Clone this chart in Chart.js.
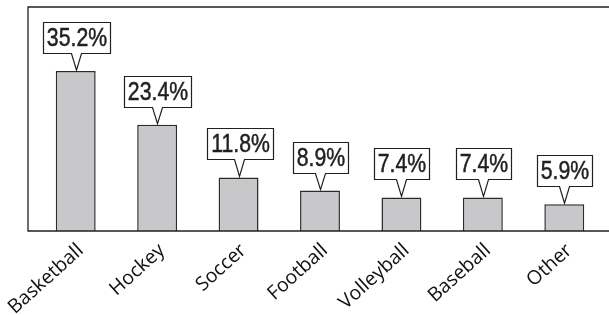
<!DOCTYPE html>
<html>
<head>
<meta charset="utf-8">
<script src="https://cdn.jsdelivr.net/npm/chart.js@4"></script>
<style>
  html, body { margin: 0; padding: 0; background: #fff; }
  #wrap { width: 609px; height: 315px; }
</style>
</head>
<body>
<div id="wrap"><canvas id="sportsChart" width="609" height="315"></canvas></div>
<script>
// Data
const sports = ['Basketball', 'Hockey', 'Soccer', 'Football', 'Volleyball', 'Baseball', 'Other'];
const shares = [35.2, 23.4, 11.8, 8.9, 7.4, 7.4, 5.9];

const INK = '#231f20';
const NARROW = 0.85; // squeeze factor to mimic a condensed face

// ── Frame: left, top and bottom rules (no right border) ──
const framePlugin = {
    id: 'frame',
    afterDraw(chart) {
        const { ctx, chartArea } = chart;
        const left = chartArea.left - 7;
        ctx.save();
        ctx.strokeStyle = INK;
        ctx.lineWidth = 1.3;
        ctx.beginPath();
        ctx.moveTo(chart.width, chartArea.top);
        ctx.lineTo(left, chartArea.top);
        ctx.lineTo(left, chartArea.bottom);
        ctx.lineTo(chart.width, chartArea.bottom);
        ctx.stroke();
        ctx.restore();
    },
};

// ── Callout labels with a little pointer ──
const calloutPlugin = {
    id: 'callouts',
    afterDatasetsDraw(chart) {
        const { ctx } = chart;
        const meta = chart.getDatasetMeta(0);
        ctx.save();
        ctx.font = "25px 'Liberation Sans', Arial, sans-serif";
        ctx.textAlign = 'center';
        ctx.textBaseline = 'middle';
        meta.data.forEach((bar, i) => {
            const text = shares[i].toFixed(1) + '%';
            const w = ctx.measureText(text).width * NARROW + 7;
            const h = 31;
            const gap = 17;
            const x = Math.round(bar.x) + 0.5;
            const tipY = bar.y - 1;
            const boxBottom = Math.round(tipY - gap) + 0.5;
            const boxTop = boxBottom - h;
            const l = Math.round(x - w / 2) + 0.5;
            const r = l + Math.round(w);

            ctx.fillStyle = '#fff';
            ctx.strokeStyle = INK;
            ctx.lineWidth = 1.2;
            ctx.beginPath();
            ctx.moveTo(l, boxTop);
            ctx.lineTo(r, boxTop);
            ctx.lineTo(r, boxBottom);
            ctx.lineTo(x + 5, boxBottom);
            ctx.lineTo(x, tipY);
            ctx.lineTo(x - 5, boxBottom);
            ctx.lineTo(l, boxBottom);
            ctx.closePath();
            ctx.fill();
            ctx.stroke();

            ctx.save();
            ctx.translate((l + r) / 2, boxTop + h / 2 + 1);
            ctx.scale(NARROW, 1);
            ctx.fillStyle = INK;
            ctx.lineWidth = 0.5;
            ctx.fillText(text, 0, 0);
            ctx.strokeText(text, 0, 0);
            ctx.restore();
        });
        ctx.restore();
    },
};

new Chart(document.getElementById('sportsChart'), {
    type: 'bar',
    data: {
        labels: sports,
        datasets: [{
            data: shares,
            backgroundColor: '#c8c8ca',
            borderColor: '#2b2b2b',
            borderWidth: 1.5,
            barPercentage: 0.49,
            categoryPercentage: 1,
        }],
    },
    options: {
        responsive: false,
        animation: false,
        layout: { padding: { top: 7, left: 35, right: 4, bottom: 0 } },
        plugins: {
            legend: { display: false },
            tooltip: { enabled: false },
        },
        scales: {
            y: {
                display: false,
                min: 0,
                max: 49.3,
            },
            x: {
                offset: true,
                grid: { display: false },
                border: { display: false },
                ticks: {
                    color: '#111',
                    font: { family: "'Open Sans', sans-serif", size: 19.5, weight: '500' },
                    minRotation: 42,
                    maxRotation: 42,
                    padding: 0,
                    labelOffset: 5,
                },
                afterFit(scale) {
                    scale.height = 84;
                    scale.paddingLeft = 0;
                    scale.paddingRight = 0;
                },
            },
        },
    },
    plugins: [framePlugin, calloutPlugin],
});
</script>
</body>
</html>
